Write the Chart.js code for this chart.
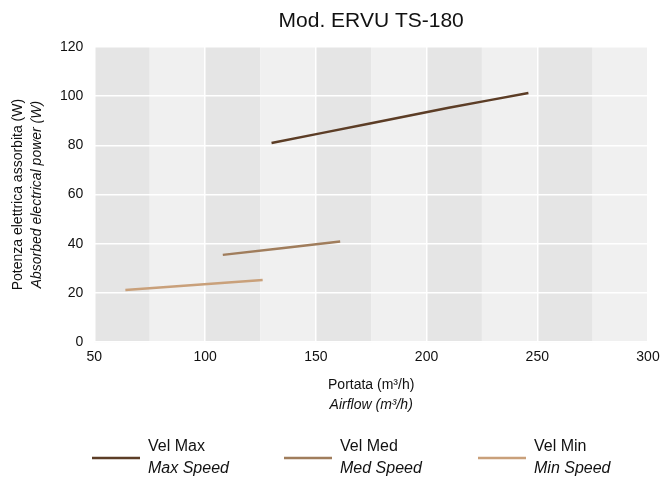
<!DOCTYPE html>
<html>
<head>
<meta charset="utf-8">
<script src="https://cdn.jsdelivr.net/npm/chart.js@4"></script>
<style>
  html, body { margin: 0; padding: 0; background: #fff; }
  #wrap { width: 660px; height: 481px; }
</style>
</head>
<body>
<div id="wrap"><canvas id="chart" width="660" height="481"></canvas></div>
<script>
const chartTitle = "Mod. ERVU TS-180";
const yTitle = ["Potenza elettrica assorbita (W)", "Absorbed electrical power (W)"];
const xTitle = ["Portata (m³/h)", "Airflow (m³/h)"];
const seriesNames = ["Vel Max", "Vel Med", "Vel Min"];
const seriesNamesEn = ["Max Speed", "Med Speed", "Min Speed"];
const seriesColors = ["#5c3d26", "#a07d5c", "#c9a07a"];

const velMax = [
  { x: 130, y: 81 },
  { x: 175, y: 89 },
  { x: 210, y: 95.3 },
  { x: 246, y: 101.3 },
];
const velMed = [
  { x: 108, y: 35.5 },
  { x: 161, y: 40.9 },
];
const velMin = [
  { x: 64, y: 21.2 },
  { x: 126, y: 25.3 },
];

const xMin = 50, xMax = 300, xStep = 50;
const yMin = 0, yMax = 120, yStep = 20;
const bandEdges = [50, 75, 100, 125, 150, 175, 200, 225, 250, 275, 300];

const FONT = "'Liberation Sans', Arial, sans-serif";

const bandsPlugin = {
  id: "bands",
  beforeDraw(chart) {
    const { ctx, chartArea, scales } = chart;
    ctx.save();
    for (let i = 0; i < bandEdges.length - 1; i++) {
      const x0 = scales.x.getPixelForValue(bandEdges[i]);
      const x1 = scales.x.getPixelForValue(bandEdges[i + 1]);
      ctx.fillStyle = i % 2 === 0 ? "#e5e5e5" : "#f0f0f0";
      ctx.fillRect(x0, chartArea.top, x1 - x0, chartArea.bottom - chartArea.top);
    }
    ctx.restore();
  },
};

const textPlugin = {
  id: "texts",
  afterDraw(chart) {
    const { ctx, chartArea } = chart;
    const cx = (chartArea.left + chartArea.right) / 2;
    ctx.save();
    ctx.fillStyle = "#111";
    ctx.textBaseline = "middle";
    ctx.textAlign = "center";

    ctx.font = `21px ${FONT}`;
    ctx.fillText(chartTitle, cx, 21);

    ctx.font = `14px ${FONT}`;
    ctx.fillText(xTitle[0], cx, 385);
    ctx.font = `italic 14px ${FONT}`;
    ctx.fillText(xTitle[1], cx, 405);

    const cy = (chartArea.top + chartArea.bottom) / 2;
    ctx.save();
    ctx.translate(18, cy);
    ctx.rotate(-Math.PI / 2);
    ctx.font = `14px ${FONT}`;
    ctx.fillText(yTitle[0], 0, 0);
    ctx.font = `italic 14px ${FONT}`;
    ctx.fillText(yTitle[1], 0, 19);
    ctx.restore();

    const legendX = [92, 284, 478];
    ctx.textAlign = "left";
    chart.data.datasets.forEach((ds, i) => {
      const x = legendX[i];
      ctx.strokeStyle = ds.borderColor;
      ctx.lineWidth = 2.5;
      ctx.beginPath();
      ctx.moveTo(x, 458);
      ctx.lineTo(x + 48, 458);
      ctx.stroke();
      ctx.fillStyle = "#111";
      ctx.font = `16px ${FONT}`;
      ctx.fillText(seriesNames[i], x + 56, 447);
      ctx.font = `italic 16px ${FONT}`;
      ctx.fillText(seriesNamesEn[i], x + 56, 469);
    });
    ctx.restore();
  },
};

const datasets = [velMax, velMed, velMin].map((data, i) => ({
  label: seriesNames[i],
  data,
  borderColor: seriesColors[i],
  backgroundColor: seriesColors[i],
  borderWidth: 2.5,
  pointRadius: 0,
  tension: 0.1,
  fill: false,
}));

new Chart(document.getElementById("chart"), {
  type: "line",
  data: { datasets },
  options: {
    responsive: false,
    animation: false,
    layout: { padding: { left: 49, right: 1, top: 47, bottom: 108 } },
    plugins: { legend: { display: false }, tooltip: { enabled: false }, title: { display: false } },
    scales: {
      x: {
        type: "linear",
        min: xMin,
        max: xMax,
        afterFit(scale) { scale.paddingRight = 12; },
        ticks: { stepSize: xStep, color: "#111", font: { family: FONT, size: 14 }, padding: 7 },
        grid: { color: "#ffffff", lineWidth: 1.5, drawTicks: false },
        border: { display: false },
      },
      y: {
        min: yMin,
        max: yMax,
        ticks: { stepSize: yStep, color: "#111", font: { family: FONT, size: 14 }, padding: 11 },
        grid: { color: "#ffffff", lineWidth: 1.5, drawTicks: false },
        border: { display: false },
      },
    },
  },
  plugins: [bandsPlugin, textPlugin],
});
</script>
</body>
</html>
